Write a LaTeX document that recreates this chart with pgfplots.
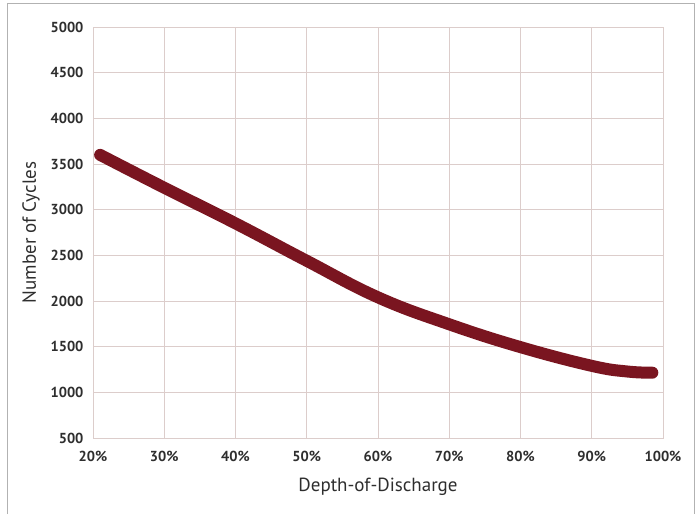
\documentclass[border=0pt]{standalone}
\usepackage{pgfplots}
\pgfplotsset{compat=1.18}
\usepackage{fontspec}
\setmainfont{PT Sans}
\definecolor{gridc}{HTML}{DCCDCB}
\definecolor{curve}{HTML}{7A1520}
\definecolor{txt}{HTML}{2E2E2E}
\begin{document}
\begin{tikzpicture}
\path[use as bounding box] (0,0) rectangle (700pt,514pt);
\draw[gray!60, line width=0.8pt] (7pt,0) -- (7pt,511pt) -- (694pt,511pt) -- (694pt,0);
\begin{axis}[
    at={(93pt,76pt)}, anchor=south west,
    scale only axis, width=570pt, height=411pt,
    xmin=20, xmax=100, ymin=500, ymax=5000,
    xtick={20,30,...,100}, ytick={500,1000,...,5000},
    grid=major,
    major grid style={gridc, line width=0.8pt},
    axis line style={gridc, line width=0.8pt},
    major tick length=0pt,
    /pgf/number format/assume math mode=true,
    /pgf/number format/1000 sep={},
    xticklabel={\pgfmathprintnumber{\tick}\%},
    ticklabel style={font=\fontsize{14.5}{14.5}\selectfont\bfseries, text=txt},
    yticklabel style={xshift=-6pt},
    xticklabel style={yshift=-10pt},
    xlabel={Depth-of-Discharge},
    ylabel={Number of Cycles},
    label style={font=\fontsize{19}{19}\selectfont, text=txt},
    xlabel style={yshift=-9pt},
    ylabel style={yshift=4pt},
    clip=false,
]
\addplot[curve, line width=12pt, line cap=round, smooth, tension=0.7] coordinates {
    (21,3600) (30,3240) (40,2850) (50,2440) (60,2040)
    (70,1745) (80,1495) (90,1290) (95,1228) (98.5,1215)
};
\end{axis}
\end{tikzpicture}
\end{document}
